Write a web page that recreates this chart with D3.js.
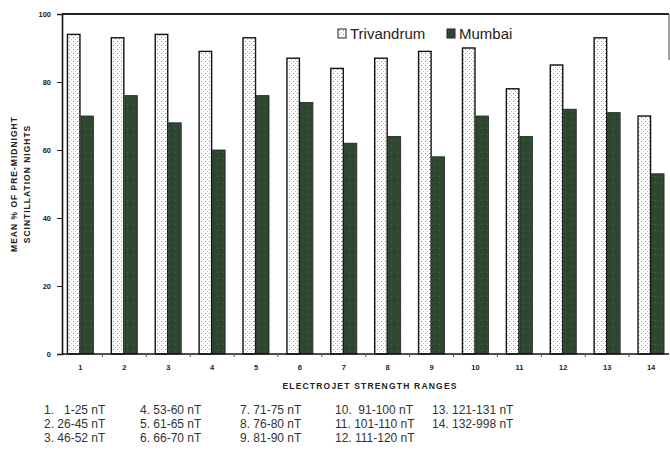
<!DOCTYPE html>
<html>
<head>
<meta charset="utf-8">
<script src="https://cdn.jsdelivr.net/npm/d3@7"></script>
<style>
  body { margin: 0; background: #fff; }
  svg { display: block; }
</style>
</head>
<body>
<div id="app"></div>
<script>

var categories = ["1", "2", "3", "4", "5", "6", "7", "8", "9", "10", "11", "12", "13", "14"];
var trivandrum = [94, 93, 94, 89, 93, 87, 84, 87, 89, 90, 78, 85, 93, 70];
var mumbai = [70, 76, 68, 60, 76, 74, 62, 64, 58, 70, 64, 72, 71, 53];
var seriesNames = ["Trivandrum", "Mumbai"];
var yTicks = [0, 20, 40, 60, 80, 100];
var rangeLabels = [
    "1.   1-25 nT", "2. 26-45 nT", "3. 46-52 nT",
    "4. 53-60 nT", "5. 61-65 nT", "6. 66-70 nT",
    "7. 71-75 nT", "8. 76-80 nT", "9. 81-90 nT",
    "10.  91-100 nT", "11. 101-110 nT", "12. 111-120 nT",
    "13. 121-131 nT", "14. 132-998 nT"
];

var width = 670, height = 454;
var plotTop = 14, plotBottom = 354, plotLeft = 62, plotRight = 669;

var svg = d3.select("#app")
    .append("svg")
    .attr("width", width)
    .attr("height", height);

var defs = svg.append("defs");

var dots = defs.append("pattern")
    .attr("id", "dots")
    .attr("width", 4)
    .attr("height", 4)
    .attr("patternUnits", "userSpaceOnUse");
dots.append("rect").attr("width", 4).attr("height", 4).attr("fill", "#fff");
dots.append("rect").attr("x", 1).attr("y", 1).attr("width", 1).attr("height", 1).attr("fill", "#8a8a8a");
dots.append("rect").attr("x", 3).attr("y", 3).attr("width", 1).attr("height", 1).attr("fill", "#c4c4c4");

var speck = defs.append("pattern")
    .attr("id", "speck")
    .attr("width", 6)
    .attr("height", 6)
    .attr("patternUnits", "userSpaceOnUse");
speck.append("rect").attr("width", 6).attr("height", 6).attr("fill", "#2f472f");
speck.append("rect").attr("x", 1).attr("y", 2).attr("width", 1).attr("height", 1).attr("fill", "#4f664d");
speck.append("rect").attr("x", 4).attr("y", 5).attr("width", 1).attr("height", 1).attr("fill", "#263c26");

var x = d3.scaleBand()
    .domain(categories)
    .range([58.5, 673]);

var y = d3.scaleLinear()
    .domain([0, 100])
    .range([plotBottom, plotTop]);

var barW = 12.5;

// bars
var groups = svg.selectAll(".group")
    .data(categories)
    .enter()
    .append("g")
    .attr("class", "group");

groups.append("rect")
    .attr("x", function (d) { return x(d) + x.bandwidth() / 2 - barW - 0.5; })
    .attr("y", function (d, i) { return y(trivandrum[i]); })
    .attr("width", barW)
    .attr("height", function (d, i) { return plotBottom - y(trivandrum[i]); })
    .attr("fill", "url(#dots)")
    .attr("stroke", "#111")
    .attr("stroke-width", 1.4);

groups.append("rect")
    .attr("x", function (d) { return x(d) + x.bandwidth() / 2 + 0.5; })
    .attr("y", function (d, i) { return y(mumbai[i]); })
    .attr("width", barW)
    .attr("height", function (d, i) { return plotBottom - y(mumbai[i]); })
    .attr("fill", "url(#speck)")
    .attr("stroke", "#1b2b1b")
    .attr("stroke-width", 0.8);

// frame
svg.append("line")
    .attr("x1", plotLeft).attr("x2", plotRight)
    .attr("y1", plotTop).attr("y2", plotTop)
    .attr("stroke", "#222").attr("stroke-width", 2);
svg.append("line")
    .attr("x1", plotRight).attr("x2", plotRight)
    .attr("y1", plotTop).attr("y2", 60)
    .attr("stroke", "#444").attr("stroke-width", 1);

// y axis
var yAxis = svg.append("g")
    .attr("transform", "translate(" + plotLeft + ",0)")
    .call(d3.axisLeft(y).tickValues(yTicks).tickSize(5).tickPadding(6));
yAxis.select(".domain").attr("stroke", "#111").attr("stroke-width", 1.6);
yAxis.selectAll(".tick line").attr("stroke", "#222");
yAxis.selectAll("text")
    .attr("font-family", "Liberation Sans, Arial, sans-serif")
    .attr("font-weight", "bold")
    .attr("font-size", 7.5)
    .attr("fill", "#222");

// x axis
var xAxis = svg.append("g")
    .attr("transform", "translate(0," + plotBottom + ")")
    .call(d3.axisBottom(x).tickSize(0).tickPadding(11));
xAxis.select(".domain").attr("d", "M" + plotLeft + ",0H" + plotRight).attr("stroke", "#111").attr("stroke-width", 1.6);
xAxis.selectAll("text")
    .attr("font-family", "Liberation Sans, Arial, sans-serif")
    .attr("font-weight", "bold")
    .attr("font-size", 7.5)
    .attr("fill", "#222");

svg.append("g")
    .selectAll("line")
    .data(categories.slice(1))
    .enter()
    .append("line")
    .attr("x1", function (d) { return x(d); })
    .attr("x2", function (d) { return x(d); })
    .attr("y1", plotBottom)
    .attr("y2", plotBottom + 3)
    .attr("stroke", "#555");

// axis titles
svg.append("text")
    .attr("x", 370)
    .attr("y", 389)
    .attr("text-anchor", "middle")
    .attr("font-family", "Liberation Sans, Arial, sans-serif")
    .attr("font-weight", "bold")
    .attr("font-size", 8.5)
    .attr("letter-spacing", 1.2)
    .attr("fill", "#222")
    .text("ELECTROJET STRENGTH  RANGES");

var yTitle = svg.append("text")
    .attr("transform", "translate(0,184) rotate(-90)")
    .attr("text-anchor", "middle")
    .attr("font-family", "Liberation Sans, Arial, sans-serif")
    .attr("font-weight", "bold")
    .attr("font-size", 8.5)
    .attr("letter-spacing", 1)
    .attr("fill", "#222");
yTitle.append("tspan").attr("x", 0).attr("y", 17).text("MEAN % OF PRE-MIDNIGHT");
yTitle.append("tspan").attr("x", 0).attr("y", 30).text("SCINTILLATION  NIGHTS");

// legend
var legend = svg.selectAll(".legend")
    .data(seriesNames)
    .enter()
    .append("g")
    .attr("class", "legend")
    .attr("transform", function (d, i) { return "translate(" + (338 + i * 109) + ",29)"; });

legend.append("rect")
    .attr("width", 8)
    .attr("height", 9)
    .attr("fill", function (d, i) { return i === 0 ? "url(#dots)" : "url(#speck)"; })
    .attr("stroke", "#222")
    .attr("stroke-width", 1);

legend.append("text")
    .attr("x", 12)
    .attr("y", 9.5)
    .attr("font-family", "Liberation Sans, Arial, sans-serif")
    .attr("font-size", 15)
    .attr("fill", "#222")
    .text(function (d) { return d; });

// range key
var colX = [44, 140, 240, 335, 432];
svg.append("g")
    .selectAll("text")
    .data(rangeLabels)
    .enter()
    .append("text")
    .attr("x", function (d, i) { return colX[Math.floor(i / 3)]; })
    .attr("y", function (d, i) { return 414 + (i % 3) * 14; })
    .attr("xml:space", "preserve")
    .style("white-space", "pre")
    .attr("font-family", "Liberation Sans, Arial, sans-serif")
    .attr("font-size", 12)
    .attr("fill", "#333")
    .text(function (d) { return d; });

</script>
</body>
</html>
